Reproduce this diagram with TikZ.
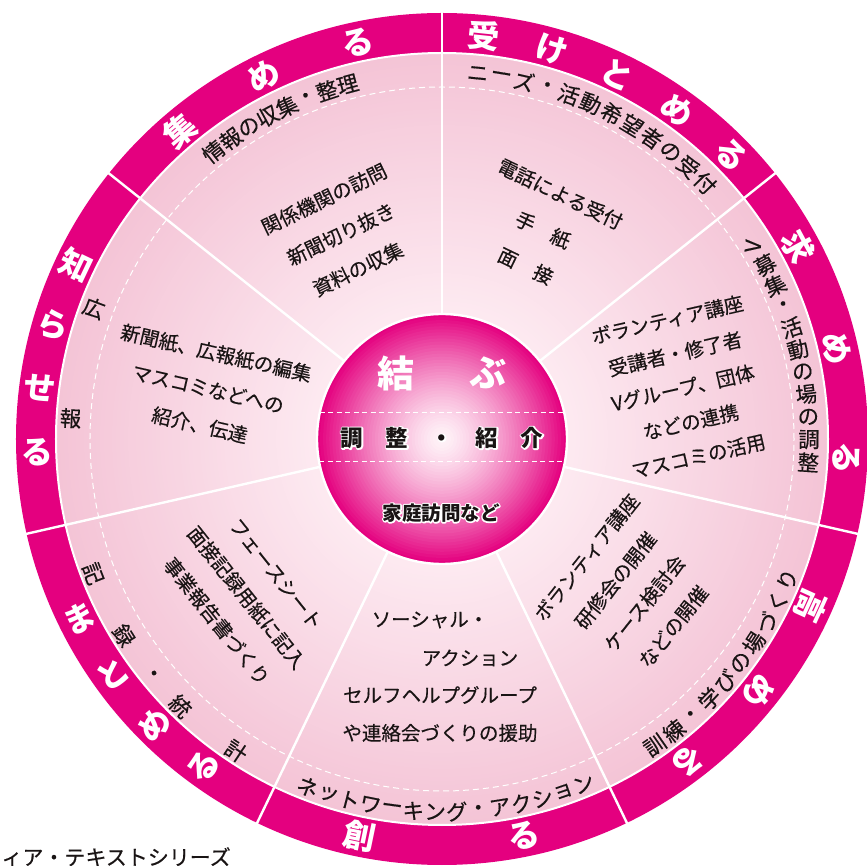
\documentclass[tikz,border=0pt]{standalone}
\usepackage{fontspec}
\setmainfont{Noto Sans CJK JP}
\newfontfamily\medjp[FakeBold=0.4]{Noto Sans CJK JP}
\definecolor{mag}{RGB}{228,0,127}
\definecolor{dkin}{RGB}{253,234,241}
\definecolor{dkout}{RGB}{244,196,214}
\definecolor{cwhite}{RGB}{255,244,248}
\definecolor{ink}{RGB}{25,20,20}
\tikzset{
  ringch/.style={text=white, font=\fontsize{32}{32}\selectfont\bfseries, inner sep=0pt},
  lab/.style={text=ink, font=\medjp\fontsize{21.5}{21.5}\selectfont, inner sep=0pt},
  body/.style={text=ink, font=\medjp\fontsize{19.5}{#1}\selectfont, align=center, inner sep=0pt},
  divider/.style={white, line width=2.4pt},
  halof/.style={font=\fontsize{#1}{#1}\selectfont\bfseries, inner sep=0pt},
}
\newcommand\ringword[5]{%
  \foreach \ltr [count=\i from 0] in {#4}{%
    \pgfmathsetmacro\ang{#1+\i*(#2)}%
    \node[ringch, rotate=\ang+#3] (#5\i) at (\ang:405) {\ltr};
  }}
\newcommand\arcword[6]{%
  \foreach \ltr [count=\i from 0] in {#5}{%
    \pgfmathsetmacro\ang{#1+\i*(#2)}%
    \node[lab, rotate=\ang+#4] (#6\i) at (\ang:#3) {\ltr};
  }}
% black text with a white outline: a stroked white copy under a filled black copy
\newcommand\halo[5]{%
  \node[halof=#5, text=white] (#1w) at (#2,#3) {\special{pdf:literal direct 1 Tr 2.8 w 1 j}#4\special{pdf:literal direct 0 Tr}};
  \node[halof=#5, text=ink] (#1) at (#2,#3) {#4};}
\begin{document}
\begin{tikzpicture}[x=1pt,y=1pt]
\useasboundingbox (-442,-427) rectangle (425,439);
% outer ring
\fill[mag] (0,0) circle (426);
% pink disk with radial gradient
\foreach \i in {0,...,65}{
  \pgfmathsetmacro\rr{386-\i*4}
  \pgfmathsetmacro\pp{100-\i*100/65}
  \fill[dkout!\pp!dkin] (0,0) circle (\rr);
}
\draw[white, line width=1pt, dash pattern=on 6pt off 4pt] (0,0) circle (352);
\draw[white, line width=2pt] (0,0) circle (386);
% dividers
\foreach \k in {0,...,6}{
  \pgfmathsetmacro\a{90-\k*360/7}
  \draw[divider] (\a:124) -- (\a:428);
}
% centre circle
\foreach \i in {0,...,40}{
  \pgfmathsetmacro\rr{125-\i*125/41}
  \pgfmathsetmacro\pp{100*((\rr/125)^1.4)}
  \fill[mag!\pp!cwhite] (0,0) circle (\rr);
}
\draw[white, line width=2.4pt] (0,0) circle (125);
\draw[white, line width=1pt, dash pattern=on 5pt off 3.5pt] (-122.3,26) -- (122.3,26);
\draw[white, line width=1pt, dash pattern=on 5pt off 3.5pt] (-122.9,-23) -- (122.9,-23);
\node[text=white, font=\fontsize{37}{37}\selectfont\bfseries, inner sep=0pt] (musu1) at (-46,66) {結};
\node[text=white, font=\fontsize{37}{37}\selectfont\bfseries, inner sep=0pt] (musu2) at (46,66) {ぶ};
\halo{chosei}{0}{1}{調　整　・　紹　介}{22.5}
\halo{katei}{-1}{-74}{家庭訪問など}{19.5}
% ring words
\ringword{84.1}{-9.9}{-90}{受,け,と,め,る}{ra}
\ringword{28.36}{-15.5}{-90}{求,め,る}{rb}
\ringword{-24.4}{-14.15}{-90}{高,め,る}{rc}
\ringword{-101.7}{23.4}{90}{創,る}{rd}
\ringword{-153.6}{9.2}{180}{ま,と,め,る}{re}
\ringword{154.55}{9.1}{180}{知,ら,せ,る}{rf}
\ringword{130.4}{-14.2}{-90}{集,め,る}{rg}
% arc labels
\arcword{128.5}{-3.37}{367}{-90}{情,報,の,収,集,・,整,理}{la}
\arcword{84.4}{-3.655}{367}{-90}{ニ,ー,ズ,・,活,動,希,望,者,の,受,付}{lb}
\node[lab, rotate=85] (lcv) at (31.8:366) {V};
\arcword{28.3}{-3.55}{367}{0}{募,集,・,活,動,の,場,の,調,整}{lc}
\arcword{-55.2}{3.67}{373}{90}{訓,練,・,学,び,の,場,づ,く,り}{ld}
\arcword{-111.1}{3.34}{373}{90}{ネ,ッ,ト,ワ,ー,キ,ン,グ,・,ア,ク,シ,ョ,ン}{le}
\foreach \ltr/\ang [count=\i] in {記/-158.9,録/-148.3,・/-140.9,統/-134.4,計/-123.4}{
  \node[lab, rotate=\ang+90] (lf\i) at (\ang:374) {\ltr};
}
\foreach \ltr/\ang [count=\i] in {広/159.4,報/176.8}{
  \node[lab, rotate=\ang+180] (lg\i) at (\ang:372) {\ltr};
}
% sector contents
\node[body=39, rotate=25.71] (s7) at (-101,205) {関係機関の訪問\\新聞切り抜き\\資料の収集};
\node[body=40, rotate=-25.71] (s1) at (101,209) {電話による受付\\手　紙\\面　接};
\node[body=35, rotate=12.86] (s2) at (241,51) {ボランティア講座\\受講者・修了者\\Vグループ、団体\\などの連携\\マスコミの活用};
\node[body=37, rotate=51.43] (s3) at (188,-153) {ボランティア講座\\研修会の開催\\ケース検討会\\などの開催};
\node[body=38] (s4a) at (-12,-181) {ソーシャル・};
\node[body=38] (s4b) at (28,-219) {アクション};
\node[body=38] (s4c) at (-2,-256) {セルフヘルプグループ};
\node[body=38] (s4d) at (-2,-294) {や連絡会づくりの援助};
\node[body=38, rotate=-51.43] (s5) at (-196,-159) {フェースシート\\面接記録用紙に記入\\事業報告書づくり};
\node[body=37, rotate=-12.86] (s6) at (-234,50) {新聞紙、広報紙の編集\\マスコミなどへの\\紹介、伝達};
% caption fragment
\node[anchor=east, text=ink, font=\medjp\fontsize{21}{21}\selectfont, inner sep=0pt] (series) at (-211,-418) {ィア・テキストシリーズ};
\end{tikzpicture}
\end{document}
